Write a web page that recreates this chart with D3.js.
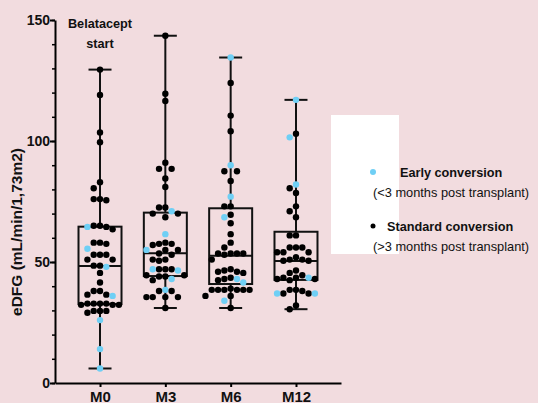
<!DOCTYPE html>
<html>
<head>
<meta charset="utf-8">
<script src="https://cdn.jsdelivr.net/npm/d3@7"></script>
<style>
  body { margin: 0; background: #f2dcdf; }
  text { font-family: "Liberation Sans", Arial, sans-serif; }
</style>
</head>
<body>
<div id="chart"></div>
<script>
// categories and values
var timepoints = ['M0', 'M3', 'M6', 'M12'];

var standardM0 = [129.5, 119, 103.5, 99.5, 83, 80.5, 76, 76, 75.5, 65, 65, 64.5, 63.5, 58, 58, 57.5,
  53, 53, 53, 51, 51, 48.5, 48.5, 45.5, 41.5, 38, 38, 36.5, 36.5, 32.8, 32.8, 32.8, 32.8,
  32.3, 32.3, 32.3, 29.8, 29.8, 29.8, 29];
var earlyM0 = [64.5, 55.5, 48, 36, 26, 14, 6];

var standardM3 = [143.5, 119.5, 116.5, 91, 88.5, 88.5, 84.5, 81, 72.5, 72.5, 70, 70, 68.5, 57.5, 57.5,
  57, 58, 55, 55, 53.5, 53, 51, 51, 50.5, 47, 47, 47, 44.5, 44.5, 44, 44, 42.5, 38, 38,
  35.5, 35.5, 35.5, 35.5, 31];
var earlyM3 = [71, 61.5, 55, 47, 46.5, 43, 38.5];

var standardM6 = [124, 110.5, 104, 87.5, 87.5, 83.5, 73, 73, 69.5, 66, 61.5, 58, 56, 53.5, 53.5, 53,
  53.5, 53.5, 51, 47, 46, 45.5, 46, 46.5, 43, 42.5, 43.5, 39, 38.5, 38.5, 38.5, 38.5, 38.5,
  38.5, 36, 36, 31];
var earlyM6 = [134.5, 90, 77, 68.5, 43, 41.5, 34];

var standardM12 = [103, 80.5, 78.5, 73, 71, 68.5, 61, 61, 56, 56, 56, 54, 54, 54, 51, 51, 50.5, 50.5,
  52, 46.5, 45.5, 44.5, 43, 43.5, 43.5, 42.5, 43, 38.5, 37, 38, 38.5, 37, 32, 30.5];
var earlyM12 = [117, 101.5, 82, 43.5, 37, 37];

// box statistics (quartiles and median)
var boxQ1 = [32.6, 44.2, 40.9, 42.6];
var boxMedian = [48.3, 53.6, 52.6, 50.4];
var boxQ3 = [64.6, 70.4, 72.2, 62.5];

var yTicks = [0, 50, 100, 150];

var standardAll = [standardM0, standardM3, standardM6, standardM12];
var earlyAll = [earlyM0, earlyM3, earlyM6, earlyM12];

var width = 538, height = 403;
var svg = d3.select('#chart').append('svg')
  .attr('width', width)
  .attr('height', height);

var y = d3.scaleLinear().domain([0, 150]).range([383, 20]);
var x = d3.scalePoint().domain(timepoints).range([55, 341]).padding(0.689);

var cyan = '#6fcff5';
var r = 3.2;
var slot = 6.3;

// minor ticks
svg.append('g')
  .attr('transform', 'translate(55,0)')
  .call(d3.axisLeft(y).tickValues(d3.range(0, 151, 10)).tickSize(3).tickFormat(''))
  .call(function (g) { g.select('.domain').remove(); })
  .selectAll('line').attr('stroke-width', 1.5);

// y axis
var yAxis = svg.append('g')
  .attr('transform', 'translate(55,0)')
  .call(d3.axisLeft(y).tickValues(yTicks).tickSize(5).tickSizeOuter(0));
yAxis.select('.domain').attr('stroke-width', 2);
yAxis.selectAll('line').attr('stroke-width', 2);
yAxis.selectAll('text')
  .style('font-size', '14px')
  .style('font-weight', 'bold')
  .attr('fill', '#111')
  .attr('x', -5);

// x axis
var xAxis = svg.append('g')
  .attr('transform', 'translate(0,383)')
  .call(d3.axisBottom(x).tickSize(4).tickSizeOuter(0));
xAxis.select('.domain').attr('stroke-width', 2);
xAxis.selectAll('line').attr('stroke-width', 2);
xAxis.selectAll('text')
  .style('font-size', '15px')
  .style('font-weight', 'bold')
  .attr('fill', '#111')
  .attr('y', 8);

// y axis title
svg.append('text')
  .attr('transform', 'translate(22,232) rotate(-90)')
  .attr('text-anchor', 'middle')
  .style('font-size', '15.5px')
  .style('font-weight', 'bold')
  .attr('fill', '#111')
  .text('eDFG (mL/min/1,73m2)');

// annotation above M0
svg.append('text')
  .attr('x', x('M0')).attr('y', 27.5)
  .attr('text-anchor', 'middle')
  .style('font-size', '12.7px').style('font-weight', 'bold').attr('fill', '#111')
  .text('Belatacept');
svg.append('text')
  .attr('x', x('M0')).attr('y', 48)
  .attr('text-anchor', 'middle')
  .style('font-size', '12.7px').style('font-weight', 'bold').attr('fill', '#111')
  .text('start');

// boxes and whiskers
timepoints.forEach(function (t, i) {
  var all = standardAll[i].concat(earlyAll[i]);
  var lo = d3.min(all), hi = d3.max(all);
  var cx = x(t);
  var g = svg.append('g').attr('stroke', '#111').attr('stroke-width', 2).attr('fill', 'none');
  g.append('line').attr('x1', cx).attr('x2', cx).attr('y1', y(hi)).attr('y2', y(boxQ3[i]));
  g.append('line').attr('x1', cx).attr('x2', cx).attr('y1', y(boxQ1[i])).attr('y2', y(lo));
  g.append('line').attr('x1', cx - 11.5).attr('x2', cx + 11.5).attr('y1', y(hi)).attr('y2', y(hi));
  g.append('line').attr('x1', cx - 11.5).attr('x2', cx + 11.5).attr('y1', y(lo)).attr('y2', y(lo));
  g.append('rect')
    .attr('x', cx - 21.5).attr('width', 43)
    .attr('y', y(boxQ3[i])).attr('height', y(boxQ1[i]) - y(boxQ3[i]));
  g.append('line').attr('x1', cx - 21.5).attr('x2', cx + 21.5)
    .attr('y1', y(boxMedian[i])).attr('y2', y(boxMedian[i]));
});

// swarm layout of the dots, slot by slot
function swarm(points) {
  var placed = [];
  var order = [0, -1, 1, -2, 2, -3, 3, -4, 4, -5, 5];
  points.slice().sort(function (a, b) { return b.v - a.v; }).forEach(function (p) {
    var py = y(p.v);
    for (var k = 0; k < order.length; k++) {
      var s = order[k];
      var hit = placed.some(function (q) { return q.s === s && Math.abs(q.py - py) < 2 * r; });
      if (!hit) { placed.push({ s: s, py: py, v: p.v, early: p.early }); break; }
    }
  });
  return placed;
}

timepoints.forEach(function (t, i) {
  var pts = standardAll[i].map(function (v) { return { v: v, early: false }; })
    .concat(earlyAll[i].map(function (v) { return { v: v, early: true }; }));
  var laid = swarm(pts);
  svg.append('g').selectAll('circle')
    .data(laid)
    .enter()
    .append('circle')
    .attr('cx', function (d) { return x(t) + d.s * slot; })
    .attr('cy', function (d) { return d.py; })
    .attr('r', r)
    .attr('fill', function (d) { return d.early ? cyan : '#000'; });
});

// legend
svg.append('rect')
  .attr('x', 331).attr('y', 115).attr('width', 68).attr('height', 139)
  .attr('fill', '#fff');
var legend = [
  { label: 'Early conversion', sub: '(<3 months post transplant)', color: cyan, r: 3, lx: 400, y: 172 },
  { label: 'Standard conversion', sub: '(>3 months post transplant)', color: '#000', r: 2.5, lx: 387, y: 226 }
];
legend.forEach(function (d) {
  svg.append('circle').attr('cx', 373).attr('cy', d.y).attr('r', d.r).attr('fill', d.color);
  svg.append('text').attr('x', d.lx).attr('y', d.y + 4.5)
    .style('font-size', '12.7px').style('font-weight', 'bold').attr('fill', '#111')
    .text(d.label);
  svg.append('text').attr('x', 373).attr('y', d.y + 25)
    .style('font-size', '12.8px').attr('fill', '#111')
    .text(d.sub);
});
</script>
</body>
</html>
